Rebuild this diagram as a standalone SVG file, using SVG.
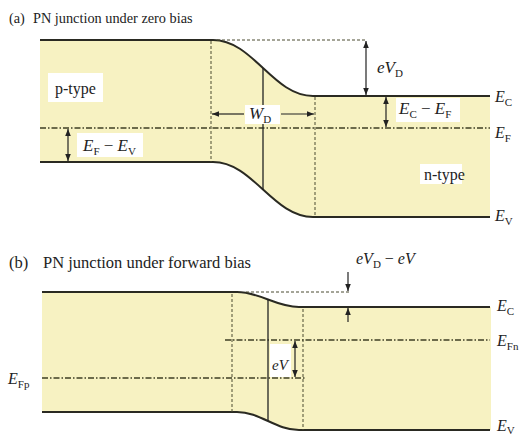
<svg xmlns="http://www.w3.org/2000/svg" width="525" height="438" viewBox="0 0 525 438">
<defs>
<marker id="ah" viewBox="0 0 10 10" refX="10" refY="5" markerWidth="7" markerHeight="7" orient="auto-start-reverse" markerUnits="userSpaceOnUse">
<path d="M0,1 L10,5 L0,9 Z" fill="#222"/>
</marker>
<style>
.fill{fill:#f7f2c2;stroke:none}
.band{fill:none;stroke:#2a2a22;stroke-width:2}
.dash{fill:none;stroke:#4a4a30;stroke-width:1;stroke-dasharray:3,2}
.dd{fill:none;stroke:#3f3f25;stroke-width:1.5;stroke-dasharray:6,2,1.5,2}
.sol{fill:none;stroke:#222;stroke-width:1.3}
.arr{fill:none;stroke:#222;stroke-width:1.2;marker-end:url(#ah)}
.arr2{fill:none;stroke:#222;stroke-width:1.2;marker-start:url(#ah);marker-end:url(#ah)}
.box{fill:#ffffff;stroke:none}
text{font-family:"Liberation Serif","Times New Roman",serif;fill:#222}
.t{font-size:14.3px}
.tb{font-size:16.5px}
.l{font-size:16px}
.m{font-size:17px}
.i{font-style:italic}
.s{font-size:11px;font-style:normal}
</style>
</defs>
<rect width="525" height="438" fill="#ffffff"/>

<!-- Panel (a) -->
<g id="panel-a">
<text class="t" x="9" y="23">(a)<tspan x="33">PN junction under zero bias</tspan></text>
<path class="fill" d="M40,40 H213 C253,40 273,96 313,96 H490 V217 H313 C273,217 253,162 213,162 H40 Z"/>
<g id="a-labels-bg">
<rect class="box" x="48" y="73" width="55" height="29"/>
<rect class="box" x="77" y="133" width="66" height="24"/>
<rect class="box" x="396" y="98" width="64" height="24"/>
<rect class="box" x="420" y="164" width="42" height="20"/>
</g>
<g id="a-Ec"><path class="band" d="M40,40 H213 C253,40 273,96 313,96 H490"/></g>
<g id="a-Ev"><path class="band" d="M40,162 H213 C253,162 273,217 313,217 H490"/></g>
<g id="a-Ef"><path class="dd" d="M40,128 H490"/></g>
<g id="a-connectors">
<path class="dash" d="M217,40 H367"/>
<path class="dash" d="M211,41 V162"/>
<path class="dash" d="M315,97 V217"/>
<path class="sol" d="M263,68 V190"/>
<path class="arr2" d="M366,41 V95"/>
<path class="arr2" d="M386,97 V127"/>
<path class="arr2" d="M68,129 V161"/>
<path class="arr" d="M244,114 H212"/>
<path class="arr" d="M281,114 H314"/>
</g>
<rect class="box" x="245" y="105" width="35" height="19"/>
<text class="l" x="55" y="94">p-type</text>
<text class="l" x="424" y="180">n-type</text>
<text class="m i" x="83" y="151">E<tspan class="s" dy="4">F</tspan><tspan dy="-4" font-style="normal"> − </tspan>E<tspan class="s" dy="4">V</tspan></text>
<text class="m i" x="399" y="114">E<tspan class="s" dy="4">C</tspan><tspan dy="-4" font-style="normal"> − </tspan>E<tspan class="s" dy="4">F</tspan></text>
<text class="m i" x="249" y="119">W<tspan class="s" dy="4">D</tspan></text>
<text class="m i" x="377" y="73">eV<tspan class="s" dy="4">D</tspan></text>
<text class="l i" x="495" y="102">E<tspan class="s" dy="4">C</tspan></text>
<text class="l i" x="495" y="138">E<tspan class="s" dy="4">F</tspan></text>
<text class="l i" x="495" y="221">E<tspan class="s" dy="4">V</tspan></text>
</g>

<!-- Panel (b) -->
<g id="panel-b">
<text class="tb" x="9" y="268">(b)<tspan x="43">PN junction under forward bias</tspan></text>
<path class="fill" d="M42,292 H237 C260,292 276,307 299,307 H491 V430 H299 C276,430 260,412 237,412 H42 Z"/>
<rect class="box" x="270" y="344" width="21" height="33"/>
<g id="b-Ec"><path class="band" d="M42,292 H237 C260,292 276,307 299,307 H490"/></g>
<g id="b-Ev"><path class="band" d="M42,412 H237 C260,412 276,430 299,430 H490"/></g>
<g id="b-Efn"><path class="dd" d="M225,340 H490"/></g>
<g id="b-Efp"><path class="dd" d="M42,378 H306"/></g>
<g id="b-connectors">
<path class="dash" d="M246,292 H349"/>
<path class="dash" d="M232,294 V412"/>
<path class="dash" d="M303,309 V430"/>
<path class="sol" d="M268,299 V421"/>
<path class="arr" d="M348,272 V291"/>
<path class="arr" d="M348,322 V308"/>
<path class="arr2" d="M295,341 V377"/>
</g>
<text class="l i" x="356" y="264">eV<tspan class="s" dy="4">D</tspan><tspan dy="-4" font-style="normal"> − </tspan>eV</text>
<text class="i" x="272" y="370" font-size="15">eV</text>
<text class="l i" x="497" y="311">E<tspan class="s" dy="4">C</tspan></text>
<text class="l i" x="497" y="346">E<tspan class="s" dy="4">Fn</tspan></text>
<text class="l i" x="497" y="431">E<tspan class="s" dy="3">V</tspan></text>
<text class="l i" x="8" y="384">E<tspan class="s" dy="4">Fp</tspan></text>
</g>
</svg>
